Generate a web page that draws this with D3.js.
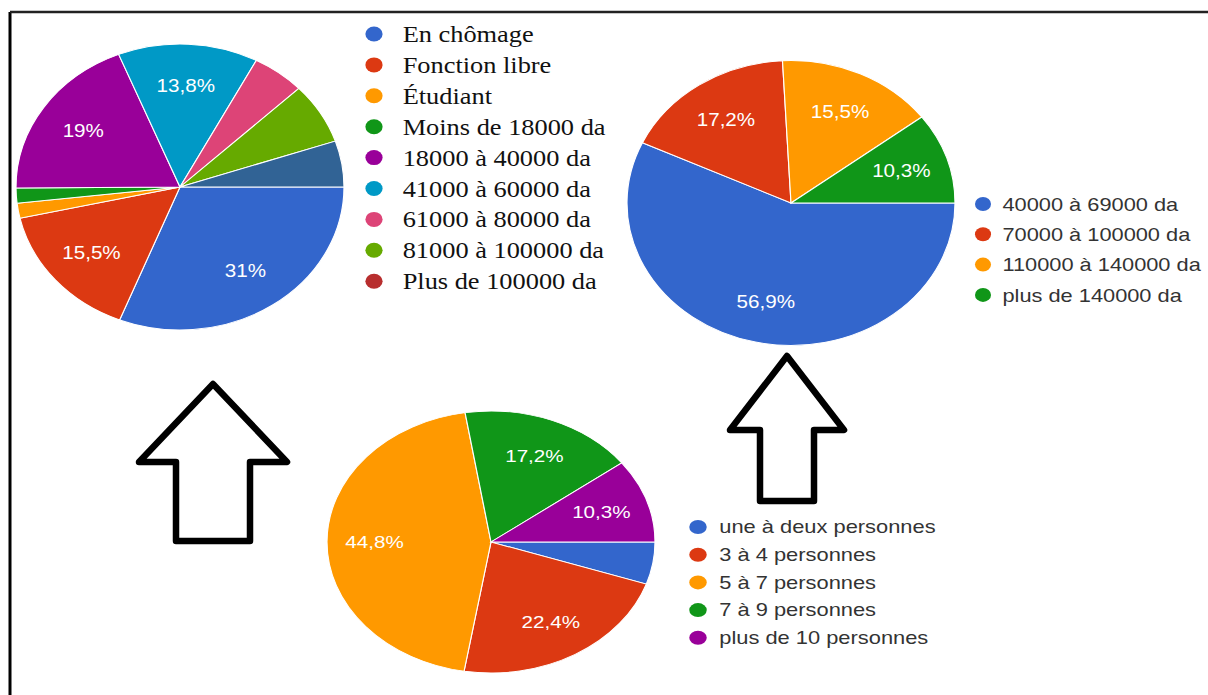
<!DOCTYPE html>
<html>
<head>
<meta charset="utf-8">
<script src="https://cdn.jsdelivr.net/npm/d3@7"></script>
<style>
  body { margin: 0; background: #fff; }
  svg { display: block; }
</style>
</head>
<body>
<div id="chart"></div>
<script>
// --- data (percent of 58 answers) ---
const occLabels = ["En chômage", "Fonction libre", "Étudiant", "Moins de 18000 da", "18000 à 40000 da",
    "41000 à 60000 da", "61000 à 80000 da", "81000 à 100000 da", "Plus de 100000 da"];
const occValues = [31, 15.5, 1.7, 1.7, 19, 13.8, 5.2, 6.9, 5.2];
const occColors = ["#3366cc", "#dc3912", "#ff9900", "#109618", "#990099", "#0099c6", "#dd4477", "#66aa00", "#316395"];
const occLegendColors = ["#3366cc", "#dc3912", "#ff9900", "#109618", "#990099", "#0099c6", "#dd4477", "#66aa00", "#b82e2e"];

const incomeLabels = ["40000 à 69000 da", "70000 à 100000 da", "110000 à 140000 da", "plus de 140000 da"];
const incomeValues = [56.9, 17.2, 15.5, 10.3];
const incomeColors = ["#3366cc", "#dc3912", "#ff9900", "#109618"];

const houseLabels = ["une à deux personnes", "3 à 4 personnes", "5 à 7 personnes", "7 à 9 personnes", "plus de 10 personnes"];
const houseValues = [5.2, 22.4, 44.8, 17.2, 10.3];
const houseColors = ["#3366cc", "#dc3912", "#ff9900", "#109618", "#990099"];

const width = 1208, height = 695;
const R = 143;            // base radius, panels are stretched from it
const LABEL_MIN = 10;     // smaller slices get no text

const svg = d3.select("#chart").append("svg")
    .attr("width", width)
    .attr("height", height);

// frame of the pasted picture
svg.append("line").attr("x1", 10).attr("y1", 12).attr("x2", 10).attr("y2", height)
    .attr("stroke", "#000").attr("stroke-width", 3);
svg.append("line").attr("x1", 10).attr("y1", 12).attr("x2", width).attr("y2", 12)
    .attr("stroke", "#222").attr("stroke-width", 2.5);

const fmt = v => String(v).replace(".", ",") + "%";

function drawPie(values, colors, cx, cy, rx, ry) {
    var pie = d3.pie().sort(null)
        .startAngle(Math.PI / 2)
        .endAngle(Math.PI / 2 + 2 * Math.PI);
    var arc = d3.arc().innerRadius(0).outerRadius(R);
    var labelArc = d3.arc().innerRadius(R * 0.71).outerRadius(R * 0.71);

    var g = svg.append("g")
        .attr("transform", `translate(${cx},${cy}) scale(${rx / R},${ry / R})`);

    var arcs = pie(values);

    g.selectAll("path")
        .data(arcs)
        .enter().append("path")
        .attr("d", arc)
        .attr("fill", (d, i) => colors[i])
        .attr("stroke", "#fff")
        .attr("stroke-width", 1);

    g.selectAll("text")
        .data(arcs.filter(d => d.data >= LABEL_MIN))
        .enter().append("text")
        .attr("transform", d => `translate(${labelArc.centroid(d)})`)
        .attr("text-anchor", "middle")
        .attr("dy", "0.36em")
        .attr("fill", "#fff")
        .style("font-family", "'Liberation Sans', Arial, sans-serif")
        .style("font-size", "18px")
        .text(d => fmt(d.data));
}

function drawLegend(labels, colors, x, y, step, sx, font, size, textColor, gap, dotR) {
    var g = svg.append("g")
        .attr("transform", `translate(${x},${y}) scale(${sx},1)`);
    var rows = g.selectAll("g")
        .data(labels)
        .enter().append("g")
        .attr("transform", (d, i) => `translate(0,${i * step})`);
    rows.append("circle")
        .attr("r", dotR)
        .attr("fill", (d, i) => colors[i]);
    rows.append("text")
        .attr("x", gap)
        .attr("y", size * 0.35)
        .attr("fill", textColor)
        .style("font-family", font)
        .style("font-size", size + "px")
        .text(d => d);
}

// hollow block arrows pointing up at the two top charts
const arrows = [
    { tipX: 213, tipY: 384, headHalf: 74, headY: 462, shaftHalf: 37, bottomY: 541 },
    { tipX: 787, tipY: 356, headHalf: 57, headY: 430, shaftHalf: 27, bottomY: 501 }
];

svg.append("g")
    .selectAll("path")
    .data(arrows)
    .enter().append("path")
    .attr("d", a => {
        var p = d3.path();
        p.moveTo(a.tipX, a.tipY);
        p.lineTo(a.tipX + a.headHalf, a.headY);
        p.lineTo(a.tipX + a.shaftHalf, a.headY);
        p.lineTo(a.tipX + a.shaftHalf, a.bottomY);
        p.lineTo(a.tipX - a.shaftHalf, a.bottomY);
        p.lineTo(a.tipX - a.shaftHalf, a.headY);
        p.lineTo(a.tipX - a.headHalf, a.headY);
        p.closePath();
        return p.toString();
    })
    .attr("fill", "#fff")
    .attr("stroke", "#000")
    .attr("stroke-width", 6.5)
    .attr("stroke-linejoin", "round");

drawPie(occValues, occColors, 180, 187, 164, 143);
drawPie(incomeValues, incomeColors, 791, 203, 164, 142.5);
drawPie(houseValues, houseColors, 491, 542, 164, 131);

drawLegend(occLabels, occLegendColors, 374, 34, 30.9, 1.147,
    "'Liberation Serif', 'Times New Roman', serif", 23, "#111", 25, 7.5);
drawLegend(incomeLabels, incomeColors, 983, 204, 30.3, 1.147,
    "'Liberation Sans', Arial, sans-serif", 19, "#333", 17, 7);
drawLegend(houseLabels, houseColors, 698, 527, 27.7, 1.25,
    "'Liberation Sans', Arial, sans-serif", 17.5, "#333", 17, 7);
</script>
</body>
</html>
